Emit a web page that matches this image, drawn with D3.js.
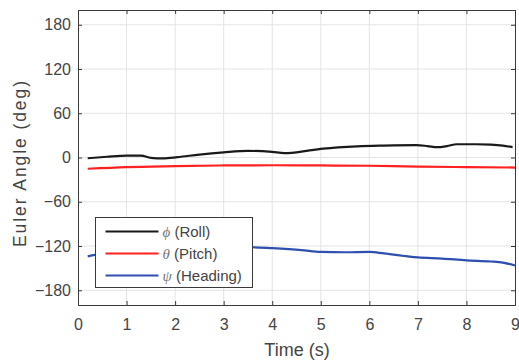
<!DOCTYPE html>
<html>
<head>
<meta charset="utf-8">
<script src="https://cdn.jsdelivr.net/npm/d3@7"></script>
<style>
  body { margin: 0; background: #fff; }
  svg text { font-family: "Liberation Sans", Arial, sans-serif; }
</style>
</head>
<body>
<div id="chart"></div>
<script>
// data
const rollT = [0.2, 0.6, 1.0, 1.3, 1.5, 1.75, 2.05, 2.5, 3.0, 3.5, 4.0, 4.25, 4.4, 4.6, 5.05, 5.75, 6.3, 6.97, 7.2, 7.4, 7.6, 7.8, 8.2, 8.5, 8.75, 8.95];
const rollV = [-1, 1, 2.5, 2.5, -0.5, -1.2, 0.5, 4, 7, 9, 7.5, 6, 6.3, 8, 12, 15.2, 16.2, 16.8, 15.5, 14, 15.5, 18, 18, 17.4, 16, 14];
const pitchT = [0.2, 1.0, 2.0, 3.0, 4.0, 5.0, 6.0, 7.0, 8.0, 9.0];
const pitchV = [-15.3, -13, -11.7, -10.8, -10.5, -10.8, -11.2, -12.3, -13, -13.6];
const headT = [0.2, 0.35, 1.0, 2.0, 3.0, 3.58, 4.0, 4.6, 5.0, 5.5, 6.0, 6.3, 7.0, 7.5, 8.0, 8.5, 8.75, 9.0];
const headV = [-134, -132, -129, -126, -123, -121.7, -123, -125.5, -128, -128.5, -128, -130, -135.4, -137, -139.4, -141, -142.5, -146.5];
const xTicks = [0, 1, 2, 3, 4, 5, 6, 7, 8, 9];
const yTicks = [-180, -120, -60, 0, 60, 120, 180];
const seriesNames = ['Roll', 'Pitch', 'Heading'];
const seriesSyms = ['\u03D5', '\u03B8', '\u03C8'];
const seriesColors = ['#1a1a1a', '#ff2020', '#2e4fb0'];

const W = 519, H = 360;
const margin = {top: 10, right: 4, bottom: 55, left: 78};
const iw = W - margin.left - margin.right;
const ih = H - margin.top - margin.bottom;

const svg = d3.select('#chart').append('svg')
  .attr('width', W).attr('height', H);
const g = svg.append('g')
  .attr('transform', 'translate(' + margin.left + ',' + margin.top + ')');

const x = d3.scaleLinear().domain([0, 9]).range([0, iw]);
const y = d3.scaleLinear().domain([-200, 200]).range([ih, 0]);

// grid
g.append('g').selectAll('line').data(xTicks.slice(1, -1)).join('line')
  .attr('x1', d => x(d)).attr('x2', d => x(d))
  .attr('y1', 0).attr('y2', ih)
  .attr('stroke', '#e4e4e4').attr('stroke-width', 1);
g.append('g').selectAll('line').data(yTicks).join('line')
  .attr('x1', 0).attr('x2', iw)
  .attr('y1', d => y(d)).attr('y2', d => y(d))
  .attr('stroke', '#e4e4e4').attr('stroke-width', 1);

// axes
const axisColor = '#3a3a3a';
const xAxis = g.append('g').attr('transform', 'translate(0,' + ih + ')')
  .call(d3.axisBottom(x).tickValues(xTicks).tickSize(-4).tickPadding(14));
const yAxis = g.append('g')
  .call(d3.axisLeft(y).tickValues(yTicks).tickSize(-4).tickPadding(7));
const xTop = g.append('g')
  .call(d3.axisTop(x).tickValues(xTicks).tickSize(-4).tickFormat(''));
const yRight = g.append('g').attr('transform', 'translate(' + iw + ',0)')
  .call(d3.axisRight(y).tickValues(yTicks).tickSize(-4).tickFormat(''));
[xAxis, yAxis, xTop, yRight].forEach(a => {
  a.select('.domain').attr('stroke', axisColor).attr('stroke-width', 1);
  a.selectAll('.tick line').attr('stroke', axisColor);
  a.selectAll('.tick text').attr('fill', '#444').style('font-size', '16px');
});

// lines
const line = d3.line()
  .x(d => x(d[0])).y(d => y(d[1]))
  .curve(d3.curveMonotoneX);
const series = [
  d3.zip(rollT, rollV),
  d3.zip(pitchT, pitchV),
  d3.zip(headT, headV)
];
g.append('g').selectAll('path').data(series).join('path')
  .attr('fill', 'none')
  .attr('stroke', (d, i) => seriesColors[i])
  .attr('stroke-width', 2.2)
  .attr('stroke-linejoin', 'round')
  .attr('d', line);

// axis labels
svg.append('text')
  .attr('x', 297).attr('y', 356)
  .attr('text-anchor', 'middle')
  .attr('fill', '#444').style('font-size', '18px')
  .text('Time (s)');
svg.append('text')
  .attr('transform', 'translate(26,164) rotate(-90)')
  .attr('text-anchor', 'middle')
  .attr('textLength', 166).attr('lengthAdjust', 'spacing')
  .attr('fill', '#444').style('font-size', '17.5px')
  .text('Euler Angle (deg)');

// legend
const legend = svg.append('g').attr('transform', 'translate(95.5,217.5)');
legend.append('rect')
  .attr('width', 157).attr('height', 70)
  .attr('fill', '#fff').attr('stroke', '#3a3a3a').attr('stroke-width', 1);
const rows = legend.selectAll('g.row').data(seriesNames).join('g')
  .attr('class', 'row')
  .attr('transform', (d, i) => 'translate(0,' + (14 + i * 22) + ')');
rows.append('line')
  .attr('x1', 10).attr('x2', 63)
  .attr('stroke', (d, i) => seriesColors[i]).attr('stroke-width', 2.2);
const txt = rows.append('text')
  .attr('x', 67).attr('y', 5.5)
  .attr('fill', '#444').style('font-size', '15px');
txt.append('tspan')
  .style('font-family', '"Liberation Serif", "DejaVu Serif", serif')
  .style('font-style', 'italic')
  .attr('fill', '#777')
  .text((d, i) => seriesSyms[i]);
txt.append('tspan').text(d => ' (' + d + ')');
</script>
</body>
</html>
